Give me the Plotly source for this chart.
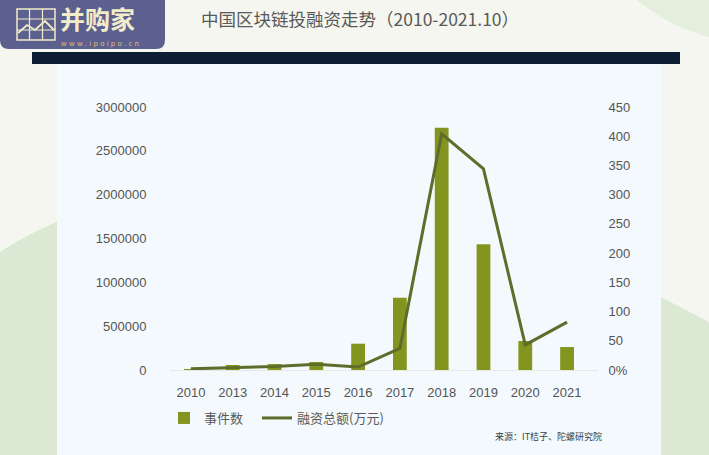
import plotly.graph_objects as go

# ---- data ----
categories = ["2010", "2013", "2014", "2015", "2016", "2017", "2018", "2019", "2020", "2021"]
event_counts = [8000, 57000, 68000, 91000, 300000, 825000, 2763000, 1435000, 331000, 262000]
funding_totals = [2, 4, 6, 10, 5, 37, 404, 344, 43, 82]
left_ticks = [0, 500000, 1000000, 1500000, 2000000, 2500000, 3000000]
left_tick_labels = ["0", "500000", "1000000", "1500000", "2000000", "2500000", "3000000"]
right_ticks = [0, 50, 100, 150, 200, 250, 300, 350, 400, 450]
right_tick_labels = ["0%", "50", "100", "150", "200", "250", "300", "350", "400", "450"]
bar_name = "事件数"
line_name = "融资总额(万元)"
title_text = "中国区块链投融资走势（2010-2021.10）"
source_text = "来源：IT桔子、陀螺研究院"

W, H = 709, 455
L, R, T, B = 170, 598, 107, 370


def xp(px):
    return (px - L) / (R - L)


def yp(py):
    return (B - py) / (B - T)


fig = go.Figure()
fig.add_trace(go.Bar(
    x=categories, y=event_counts, name=bar_name,
    marker=dict(color="#84951f", line=dict(width=0)), width=0.33,
    yaxis="y", legend="legend",
))
fig.add_trace(go.Scatter(
    x=categories, y=funding_totals, name=line_name, mode="lines",
    line=dict(color="#5f6d2c", width=3), yaxis="y2", legend="legend2",
))

shapes = []


def rect(x0, y0, x1, y1, color):
    shapes.append(dict(type="rect", xref="paper", yref="paper",
                       x0=xp(x0), x1=xp(x1), y0=yp(y1), y1=yp(y0),
                       fillcolor=color, line=dict(width=0), layer="below"))


def path(points, color, closed=True, width=0, linecolor=None):
    d = ""
    for cmd, pts in points:
        if cmd == "Q":
            d += "Q" + " ".join(f"{xp(a):.5f},{yp(b):.5f}" for a, b in pts) + " "
        else:
            for a, b in pts:
                d += f"{cmd}{xp(a):.5f},{yp(b):.5f} "
    if closed:
        d += "Z"
    s = dict(type="path", xref="paper", yref="paper", path=d, layer="below")
    if closed:
        s["fillcolor"] = color
        s["line"] = dict(width=0)
    else:
        s["line"] = dict(width=width, color=linecolor)
    shapes.append(s)


# background decorations
cx, cy, r = 760, -150, 194
shapes.append(dict(type="circle", xref="paper", yref="paper",
                   x0=xp(cx - r), x1=xp(cx + r), y0=yp(cy + r), y1=yp(cy - r),
                   fillcolor="#e3eedc", line=dict(width=0), layer="below"))
path([("M", [(0, 252)]), ("Q", [(30, 232), (80, 212)]), ("L", [(80, 460), (0, 460)])], "#dbe9d4")
path([("M", [(630, 281)]), ("L", [(709, 322), (709, 460), (630, 460)])], "#dbe9d4")

# chart panel
rect(57, 64, 661, 460, "#f3f9fc")
# navy bar
rect(32, 52, 680, 64, "#0c1f35")

# logo rounded rect
rr = 9
path([("M", [(0, -5)]), ("L", [(165, -5), (165, 49 - rr)]), ("Q", [(165, 49), (165 - rr, 49)]),
      ("L", [(rr, 49)]), ("Q", [(0, 49), (0, 49 - rr)])], "#5b608f")
cream = "#f3ecc9"
shapes.append(dict(type="rect", xref="paper", yref="paper", x0=xp(17), x1=xp(55), y0=yp(40), y1=yp(9),
                   line=dict(color=cream, width=1.5), fillcolor="rgba(0,0,0,0)", layer="below"))
for gx in [29.5, 42.5]:
    shapes.append(dict(type="line", xref="paper", yref="paper", x0=xp(gx), x1=xp(gx), y0=yp(40), y1=yp(9),
                       line=dict(color=cream, width=1.2), layer="below"))
for gy in [19, 30]:
    shapes.append(dict(type="line", xref="paper", yref="paper", x0=xp(17), x1=xp(55), y0=yp(gy), y1=yp(gy),
                       line=dict(color=cream, width=1.2), layer="below"))
path([("M", [(18, 33)]), ("L", [(27, 25), (35, 30), (45, 21), (54, 30)])], None, closed=False,
     width=1.8, linecolor=cream)

annotations = [
    dict(text="并购家", x=xp(59), y=yp(18), xref="paper", yref="paper", xanchor="left", yanchor="middle",
         showarrow=False, borderpad=0,
         font=dict(family="Noto Sans CJK SC", size=25, color=cream, weight="bold")),
    dict(text="w w w . i p o i p o . c n", x=xp(100), y=yp(44), xref="paper", yref="paper",
         xanchor="center", yanchor="middle", showarrow=False, borderpad=0,
         font=dict(family="DejaVu Sans", size=7, color="#e5be74")),
    dict(text=title_text, x=xp(199), y=yp(18), xref="paper", yref="paper", xanchor="left", yanchor="middle",
         showarrow=False, font=dict(family="Noto Sans CJK SC", size=17.5, color="#595959")),
    dict(text=source_text, x=xp(493), y=yp(436), xref="paper", yref="paper", xanchor="left", yanchor="middle",
         showarrow=False, font=dict(family="Noto Sans CJK SC", size=9, color="#404040")),
]

tick_font = dict(family="Liberation Sans, Arial", size=13, color="#555555")
legend_font = dict(family="Noto Sans CJK SC", size=13, color="#595959")

fig.update_layout(
    width=W, height=H,
    margin=dict(l=L, r=W - R, t=T, b=H - B, pad=0),
    paper_bgcolor="#f4f6ef",
    plot_bgcolor="rgba(0,0,0,0)",
    showlegend=True,
    legend=dict(orientation="h", x=xp(164), y=yp(418), xanchor="left", yanchor="middle",
                font=legend_font, bgcolor="rgba(0,0,0,0)"),
    legend2=dict(orientation="h", x=xp(257), y=yp(418), xanchor="left", yanchor="middle",
                 font=legend_font, bgcolor="rgba(0,0,0,0)"),
    xaxis=dict(type="category", range=[-0.5, 9.74], showgrid=False, zeroline=False,
               showline=True, linecolor="#e4e9e4", linewidth=1,
               ticks="outside", ticklen=10, tickcolor="rgba(0,0,0,0)", tickfont=tick_font),
    yaxis=dict(range=[0, 3000000], tickvals=left_ticks, ticktext=left_tick_labels,
               showgrid=False, zeroline=False, showline=False,
               ticks="outside", ticklen=20, tickcolor="rgba(0,0,0,0)", tickfont=tick_font),
    yaxis2=dict(range=[0, 450], tickvals=right_ticks, ticktext=right_tick_labels, overlaying="y",
                side="right", showgrid=False, zeroline=False, showline=False,
                ticks="outside", ticklen=7, tickcolor="rgba(0,0,0,0)", tickfont=tick_font),
    bargap=0.67,
    shapes=shapes,
    annotations=annotations,
)

fig.write_html("out.html", config={"displayModeBar": False},
               post_script="document.body.style.margin='0px';")
